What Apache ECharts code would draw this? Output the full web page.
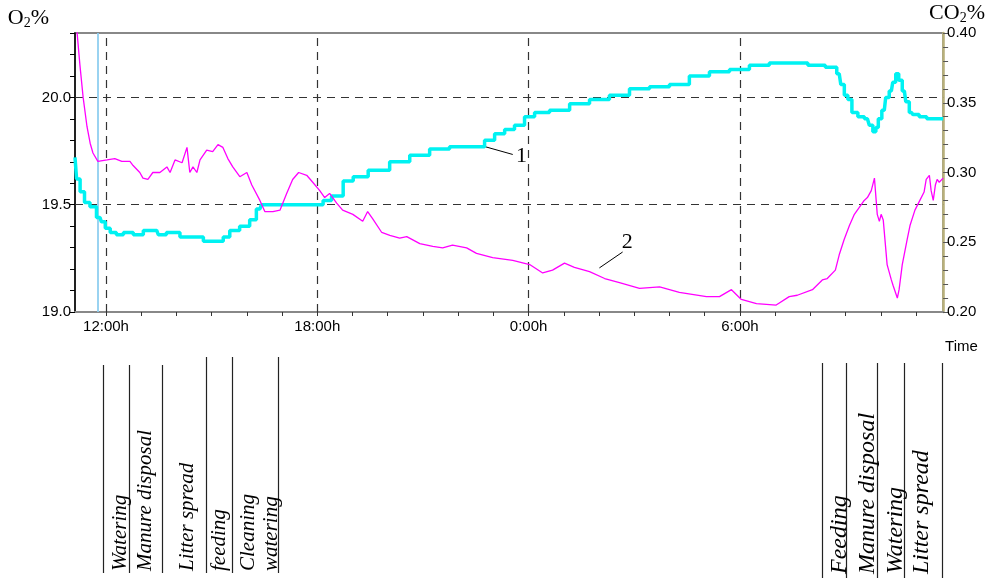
<!DOCTYPE html>
<html>
<head>
<meta charset="utf-8">
<script src="https://cdn.jsdelivr.net/npm/echarts@6/dist/echarts.min.js"></script>
<style>
html,body{margin:0;padding:0;background:#fff;}
#c{width:988px;height:581px;}
</style>
</head>
<body>
<div id="c"></div>
<script>
// ---- data (hours since midnight of day 1; 24 = 0:00h next day) ----
var xMin = 11.12, xMax = 35.77;
var hourTicks = [12,13,14,15,16,17,18,19,20,21,22,23,24,25,26,27,28,29,30,31,32,33,34,35];
var hourLabels = [12, 18, 24, 30];
var cursorHour = 11.77;

// Curve 1 (cyan) – O2 %, left axis
var curve1 = [
 [11.12,19.72],[11.21,19.62],[11.32,19.56],[11.46,19.51],[11.63,19.49],[11.83,19.44],[11.91,19.42],
 [12.05,19.39],[12.19,19.37],[12.40,19.36],[12.59,19.37],[12.96,19.36],[13.16,19.38],[13.44,19.38],
 [13.53,19.36],[13.90,19.37],[14.30,19.35],[14.67,19.35],[14.86,19.33],[15.23,19.33],[15.43,19.35],
 [15.60,19.38],[15.99,19.40],[16.17,19.43],[16.37,19.48],[16.45,19.50],[16.94,19.50],[17.50,19.50],
 [18.07,19.50],[18.26,19.52],[18.55,19.54],[18.92,19.61],[19.12,19.63],[19.77,19.66],[20.34,19.70],
 [20.91,19.73],[21.47,19.76],[22.04,19.77],[22.61,19.77],[22.89,19.80],[23.18,19.83],[23.46,19.85],
 [23.74,19.87],[24.03,19.91],[24.31,19.93],[24.88,19.94],[25.45,19.97],[26.01,19.99],[26.58,20.01],
 [27.15,20.04],[27.72,20.05],[28.28,20.06],[28.85,20.10],[29.42,20.12],[29.99,20.13],[30.55,20.15],
 [31.12,20.16],[31.69,20.16],[32.17,20.15],[32.68,20.14],[32.82,20.11],[32.91,20.06],[33.02,20.01],
 [33.11,19.99],[33.25,19.93],[33.45,19.91],[33.62,19.90],[33.73,19.87],[33.82,19.84],[33.90,19.86],
 [33.96,19.90],[34.10,19.94],[34.18,20.00],[34.30,20.03],[34.38,20.07],[34.47,20.11],[34.55,20.08],
 [34.67,20.03],[34.75,19.98],[34.87,19.93],[34.95,19.92],[35.23,19.91],[35.38,19.90],[35.77,19.90]
];

// Curve 2 (magenta) – CO2 %, right axis
var curve2 = [
 [11.12,0.430],[11.18,0.400],[11.26,0.377],[11.35,0.354],[11.46,0.333],[11.55,0.321],[11.63,0.314],
 [11.77,0.308],[12.03,0.309],[12.25,0.310],[12.45,0.308],[12.68,0.308],[12.77,0.305],[12.96,0.300],
 [13.05,0.296],[13.19,0.295],[13.33,0.300],[13.53,0.300],[13.73,0.304],[13.82,0.300],[13.96,0.309],
 [14.16,0.307],[14.30,0.318],[14.38,0.300],[14.47,0.304],[14.58,0.300],[14.67,0.309],[14.86,0.316],
 [15.03,0.315],[15.18,0.320],[15.32,0.318],[15.46,0.310],[15.60,0.304],[15.80,0.297],[16.00,0.300],
 [16.14,0.291],[16.37,0.280],[16.51,0.272],[16.74,0.272],[16.94,0.273],[17.13,0.285],[17.30,0.295],
 [17.47,0.300],[17.70,0.298],[17.87,0.293],[18.07,0.287],[18.21,0.282],[18.35,0.285],[18.55,0.278],
 [18.72,0.273],[19.01,0.270],[19.29,0.265],[19.43,0.272],[19.57,0.267],[19.83,0.257],[20.06,0.255],
 [20.34,0.253],[20.54,0.254],[20.91,0.249],[21.28,0.247],[21.56,0.246],[21.84,0.248],[22.24,0.246],
 [22.52,0.242],[22.98,0.239],[23.55,0.237],[24.03,0.234],[24.40,0.228],[24.68,0.230],[25.02,0.235],
 [25.30,0.232],[25.73,0.229],[26.16,0.224],[26.58,0.221],[27.15,0.217],[27.72,0.218],[28.28,0.214],
 [29.05,0.211],[29.42,0.211],[29.76,0.216],[30.04,0.209],[30.47,0.206],[31.03,0.205],[31.40,0.211],
 [31.63,0.212],[32.06,0.216],[32.34,0.223],[32.48,0.224],[32.71,0.230],[32.82,0.241],[32.96,0.252],
 [33.11,0.262],[33.25,0.270],[33.39,0.275],[33.53,0.280],[33.62,0.282],[33.73,0.287],[33.82,0.296],
 [33.87,0.295],[33.90,0.270],[33.96,0.265],[34.01,0.270],[34.07,0.266],[34.18,0.234],[34.30,0.223],
 [34.35,0.219],[34.47,0.210],[34.52,0.216],[34.61,0.234],[34.75,0.252],[34.83,0.262],[34.97,0.273],
 [35.11,0.280],[35.23,0.286],[35.29,0.295],[35.38,0.298],[35.43,0.287],[35.49,0.280],[35.55,0.291],
 [35.60,0.295],[35.66,0.293],[35.77,0.296]
];

var gridO2 = [19.5, 20.0];

// event markers below the chart
var leftEventLines = [11.91, 12.65, 13.59, 14.84, 15.57, 16.88];
var rightEventLines = [32.34, 33.02, 33.90, 34.67, 35.74];
var leftEventTexts = [
  ['Watering', 12.40], ['Manure disposal', 13.13], ['Litter spread', 14.30],
  ['feeding', 15.23], ['Cleaning', 16.06], ['watering', 16.71]
];
var rightEventTexts = [
  ['Feeding', 32.82], ['Manure disposal', 33.62], ['Watering', 34.41], ['Litter spread', 35.15]
];

// curve labels: [label, leader start, leader end, text position]
var label1 = {text:'1', from:[22.75,19.771], to:[23.55,19.734], at:[23.80,19.724]};
var label2 = {text:'2', from:[26.01,0.2316], to:[26.67,0.243], at:[26.80,0.250]};

function hourFmt(h){ return (Math.round(h) % 24) + ':00h'; }

var chart = echarts.init(document.getElementById('c'), null, {renderer:'canvas'});
var sans = 'Liberation Sans';
var serif = 'Liberation Serif';

var option = {
  animation: false,
  backgroundColor: '#fff',
  grid: {left:75, right:44, top:33, bottom:269, show:true, borderColor:'#888', borderWidth:2, containLabel:false},
  xAxis: {
    type:'value', min:xMin, max:xMax,
    axisLine:{show:true, lineStyle:{color:'#888', width:2}},
    axisTick:{show:true, length:4, customValues:hourTicks, lineStyle:{color:'#333', width:1}},
    axisLabel:{customValues:hourLabels, formatter:hourFmt, color:'#000', fontFamily:sans, fontSize:15, margin:7},
    splitLine:{show:false},
    name:'Time', nameLocation:'end', nameGap:0,
    nameTextStyle:{color:'#000', fontFamily:sans, fontSize:15, align:'left', verticalAlign:'top', padding:[27,0,0,2]}
  },
  yAxis: [{
    type:'value', min:19.0, max:20.3, interval:0.1, position:'left',
    axisLine:{show:true, lineStyle:{color:'#000', width:1.5}},
    axisTick:{show:true, length:5, lineStyle:{color:'#000'}},
    axisLabel:{color:'#000', fontFamily:sans, fontSize:15, margin:4,
      formatter:function(v){ var k=Math.round(v*10); return (k%5===0)? (k/10).toFixed(1) : ''; }},
    splitLine:{show:false},
    name:'{a|O}{b|2}{a|%}', nameLocation:'end', nameGap:3,
    nameTextStyle:{align:'right', padding:[0,26,0,0], rich:{
      a:{fontFamily:serif, fontSize:22, color:'#000'},
      b:{fontFamily:serif, fontSize:14, color:'#000', padding:[10,0,0,0]}}}
  },{
    type:'value', min:0.20, max:0.40, interval:0.01, position:'right',
    axisLine:{show:true, lineStyle:{color:'#b8b07a', width:2.5}},
    axisTick:{show:true, length:5, lineStyle:{color:'#555'}},
    axisLabel:{color:'#000', fontFamily:sans, fontSize:15, margin:4,
      formatter:function(v){ var k=Math.round(v*100); return (k%5===0)? (k/100).toFixed(2) : ''; }},
    splitLine:{show:false},
    name:'{a|CO}{b|2}{a|%}', nameLocation:'end', nameGap:6,
    nameTextStyle:{align:'left', padding:[0,0,0,-14], rich:{
      a:{fontFamily:serif, fontSize:22, color:'#000'},
      b:{fontFamily:serif, fontSize:14, color:'#000', padding:[10,0,0,0]}}}
  }],
  series: [{
    name:'1', type:'line', xAxisIndex:0, yAxisIndex:0, data:curve1,
    showSymbol:false, symbol:'none', step:'middle', z:3,
    lineStyle:{color:'#00f2f2', width:3.5},
    markLine:{silent:true, symbol:'none', label:{show:false}, z:1,
      data: hourLabels.map(function(h){ return {xAxis:h, lineStyle:{color:'#333', type:[8,6], width:1.2}}; })
        .concat(gridO2.map(function(v){ return {yAxis:v, lineStyle:{color:'#333', type:[8,6], width:1.2}}; }))
        .concat([{xAxis:cursorHour, lineStyle:{color:'#8fcff0', type:'solid', width:1.8}}])
    }
  },{
    name:'2', type:'line', xAxisIndex:0, yAxisIndex:1, data:curve2,
    showSymbol:false, symbol:'none', z:4,
    lineStyle:{color:'#ff00ff', width:1.3}
  }]
};
chart.setOption(option);

function px(h){ return chart.convertToPixel({xAxisIndex:0}, h); }
function pt(p, yi){ return chart.convertToPixel({xAxisIndex:0, yAxisIndex:yi}, p); }

var g = [];
leftEventLines.forEach(function(h, i){
  var x = Math.round(px(h)) + 0.5;
  g.push({type:'line', silent:true, shape:{x1:x, y1:(i<3?365:357), x2:x, y2:573}, style:{stroke:'#222', lineWidth:1.2}});
});
rightEventLines.forEach(function(h){
  var x = Math.round(px(h)) + 0.5;
  g.push({type:'line', silent:true, shape:{x1:x, y1:363, x2:x, y2:578}, style:{stroke:'#222', lineWidth:1.2}});
});
function addText(t, h, yb, size){
  g.push({type:'text', silent:true, x:px(h), y:yb, rotation:Math.PI/2,
    style:{text:t, x:0, y:0, align:'left', verticalAlign:'middle', fill:'#000',
      font:'italic ' + size + 'px "' + serif + '"'}});
}
leftEventTexts.forEach(function(e){ addText(e[0], e[1], 571, 21); });
rightEventTexts.forEach(function(e){ addText(e[0], e[1], 574, 24); });

function addLabel(L, yi){
  var a = pt(L.from, yi), b = pt(L.to, yi), c = pt(L.at, yi);
  g.push({type:'line', silent:true, shape:{x1:a[0], y1:a[1], x2:b[0], y2:b[1]}, style:{stroke:'#000', lineWidth:1}});
  g.push({type:'text', silent:true, x:c[0], y:c[1],
    style:{text:L.text, align:'center', verticalAlign:'middle', fill:'#000', font:'22px "' + serif + '"'}});
}
addLabel(label1, 0);
addLabel(label2, 1);

chart.setOption({graphic: g});
</script>
</body>
</html>
